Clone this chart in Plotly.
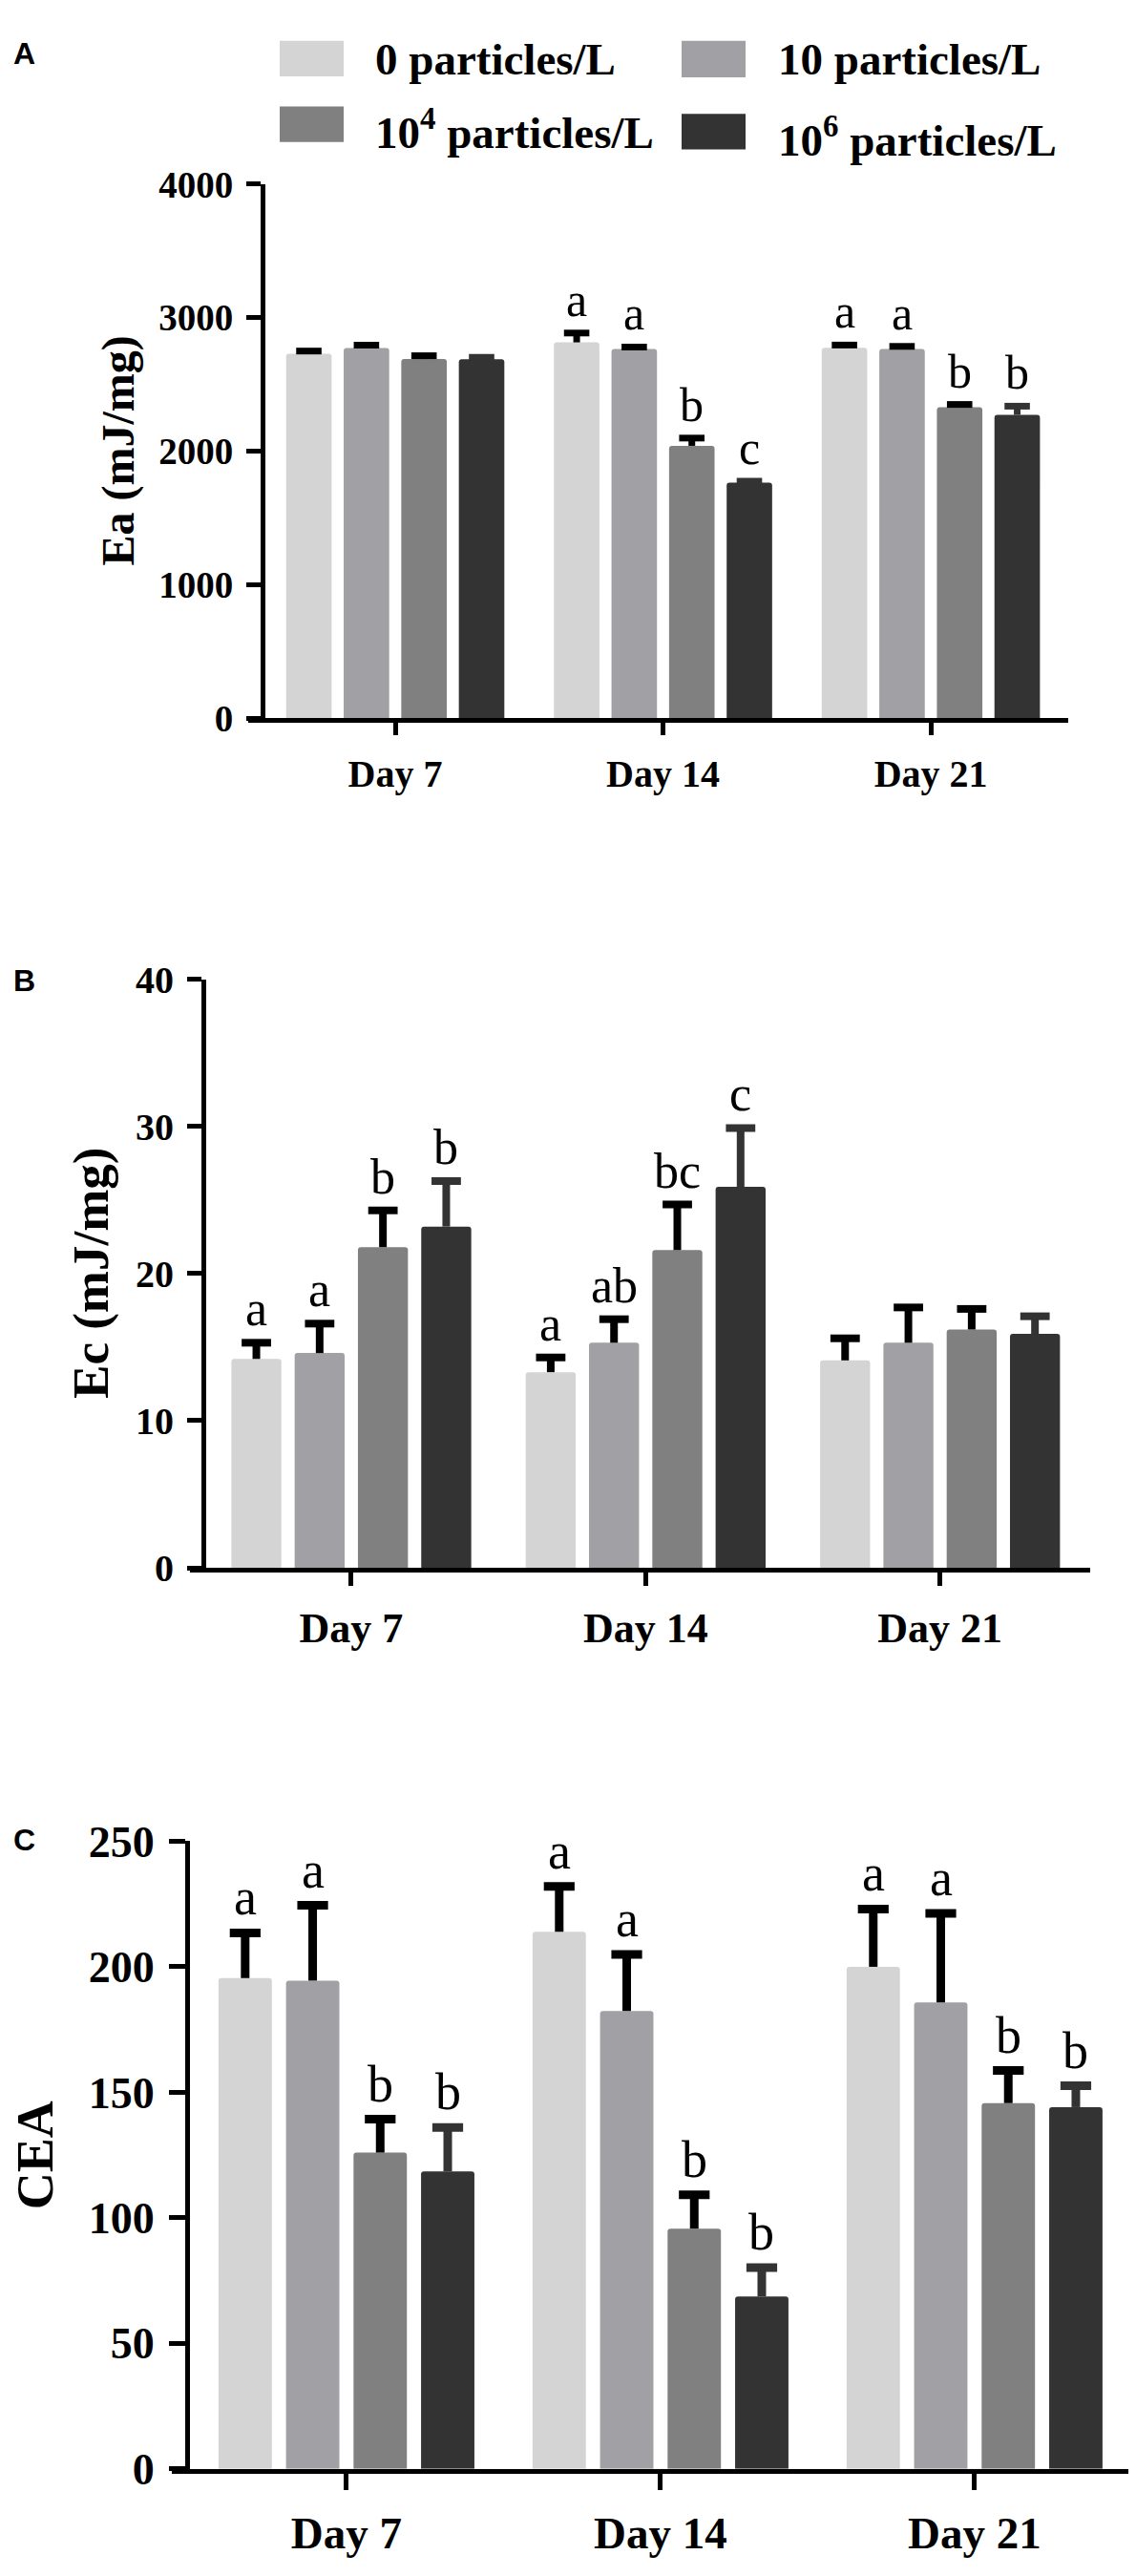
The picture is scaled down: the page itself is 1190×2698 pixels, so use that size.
import plotly.graph_objects as go

# ---------------- data ----------------
days = ["Day 7", "Day 14", "Day 21"]
groups = ["0 particles/L", "10 particles/L",
          "10<sup>4</sup> particles/L", "10<sup>6</sup> particles/L"]

# Panel A: Ea (mJ/mg), rows = groups, cols = days
ea_mean = [[2730, 2815, 2775],
           [2772, 2765, 2765],
           [2690, 2040, 2330],
           [2688, 1765, 2272]]
ea_err = [[20, 70, 20],
          [22, 15, 20],
          [25, 58, 20],
          [15, 10, 65]]
ea_letters = [["", "a", "a"],
              ["", "a", "a"],
              ["", "b", "b"],
              ["", "c", "b"]]

# Panel B: Ec (mJ/mg)
ec_mean = [[14.2, 13.3, 14.1],
           [14.6, 15.3, 15.3],
           [21.8, 21.6, 16.2],
           [23.2, 25.9, 15.9]]
ec_err = [[1.1, 1.0, 1.5],
          [2.0, 1.6, 2.4],
          [2.5, 3.1, 1.4],
          [3.1, 4.0, 1.2]]
ec_letters = [["a", "a", ""],
              ["a", "ab", ""],
              ["b", "bc", ""],
              ["b", "c", ""]]

# Panel C: CEA
cea_mean = [[195.5, 214.0, 200.0],
            [194.5, 182.4, 185.8],
            [126.0, 95.7, 145.7],
            [118.5, 68.7, 144.1]]
cea_err = [[18.0, 18.0, 23.0],
           [30.0, 22.5, 35.5],
           [13.3, 13.5, 13.0],
           [17.5, 11.5, 8.5]]
cea_letters = [["a", "a", "a"],
               ["a", "a", "a"],
               ["b", "b", "b"],
               ["b", "b", "b"]]

ea_ticks = [0, 1000, 2000, 3000, 4000]
ec_ticks = [0, 10, 20, 30, 40]
cea_ticks = [0, 50, 100, 150, 200, 250]

# ---------------- style ----------------
colors = ["#d4d4d4", "#a1a1a5", "#808080", "#333333"]
err_colors = ["#000000", "#000000", "#000000", "#333333"]
SERIF = "Liberation Serif, Times New Roman, serif"
SANS = "Liberation Sans, Arial, sans-serif"
W, H = 1190, 2698
BARGAP = 0.14
BARGROUPGAP = 0.21


def px(x):
    return x / W


def py(y):
    return 1 - y / H


panels = [
    dict(key="", mean=ea_mean, err=ea_err, letters=ea_letters, ticks=ea_ticks,
         yr=[0, 4000], title="Ea (mJ/mg)", xdom=(252, 1111), ydom=(163, 733),
         xr=[-0.549, 2.513], ypos=267, tickfs=39, xfs=40, titlefs=48,
         titlex=116, letfs=50, th=7, cw=9.5, label="A", labely=23,
         xticklen=13, yticklen=15, xstand=6),
    dict(key="2", mean=ec_mean, err=ec_err, letters=ec_letters, ticks=ec_ticks,
         yr=[0, 40], title="Ec (mJ/mg)", xdom=(191, 1134), ydom=(1012, 1640),
         xr=[-0.548, 2.51], ypos=205, tickfs=40, xfs=44, titlefs=53,
         titlex=88, letfs=52, th=8, cw=11, label="B", labely=1013,
         xticklen=14, yticklen=15, xstand=6),
    dict(key="3", mean=cea_mean, err=cea_err, letters=cea_letters, ticks=cea_ticks,
         yr=[0, 250], title="CEA", xdom=(172, 1180), ydom=(1932, 2602),
         xr=[-0.556, 2.508], ypos=188, tickfs=46, xfs=47, titlefs=54,
         titlex=29, letfs=54, th=9, cw=11.5, label="C", labely=1931,
         xticklen=17, yticklen=17, xstand=5),
]

xpos = list(range(len(days)))
slot = (1 - BARGAP) / 4

fig = go.Figure()
annotations = []
shapes = []

for p in panels:
    xa = "x" + p["key"]
    ya = "y" + p["key"]
    for i in range(4):
        tops = [m + e for m, e in zip(p["mean"][i], p["err"][i])]
        # bar with the error stem (no cross-bar)
        fig.add_trace(go.Bar(
            x=xpos, y=p["mean"][i], name=groups[i],
            xaxis=xa, yaxis=ya, showlegend=False,
            marker=dict(color=colors[i], line=dict(width=0), cornerradius=3),
            error_y=dict(type="data", symmetric=False, array=p["err"][i],
                         arrayminus=[0] * len(days), color=err_colors[i],
                         thickness=p["th"], width=0),
        ))
        # upper cross-bar only
        fig.add_trace(go.Scatter(
            x=[d + (i - 1.5) * slot for d in xpos], y=tops,
            xaxis=xa, yaxis=ya, showlegend=False, mode="markers",
            hoverinfo="skip",
            marker=dict(symbol="line-ew", size=2 * p["cw"],
                        line=dict(width=p["th"], color=err_colors[i])),
        ))
        for d in xpos:
            txt = p["letters"][i][d]
            if txt:
                annotations.append(dict(
                    x=d + (i - 1.5) * slot, y=tops[d],
                    xref=xa, yref=ya, text=txt, showarrow=False,
                    xanchor="center", yanchor="bottom", yshift=5,
                    font=dict(family=SERIF, size=p["letfs"], color="black")))
    axis_common = dict(showline=True, linecolor="black", showgrid=False,
                       zeroline=False, ticks="outside", tickcolor="black")
    fig.update_layout(**{
        "xaxis" + p["key"]: dict(
            domain=[px(p["xdom"][0]), px(p["xdom"][1])], range=p["xr"],
            anchor=ya, linewidth=5, tickwidth=5, ticklen=p["xticklen"],
            tickvals=xpos, ticktext=["<b>%s</b>" % d for d in days],
            tickfont=dict(family=SERIF, size=p["xfs"], color="black"),
            ticklabelstandoff=p["xstand"], **axis_common),
        "yaxis" + p["key"]: dict(
            domain=[py(p["ydom"][1]), py(p["ydom"][0])], range=p["yr"],
            anchor="free", position=px(p["ypos"]), linewidth=5, tickwidth=5,
            ticklen=p["yticklen"], tickvals=p["ticks"],
            ticktext=["<b>%d</b>" % t for t in p["ticks"]],
            ticklabelstandoff=6,
            tickfont=dict(family=SERIF, size=p["tickfs"], color="black"),
            **axis_common),
    })
    # y-axis title
    annotations.append(dict(
        x=px(p["titlex"]), y=py((p["ydom"][0] + p["ydom"][1]) / 2),
        xref="paper", yref="paper", text="<b>%s</b>" % p["title"],
        textangle=-90, showarrow=False, xanchor="center", yanchor="middle",
        font=dict(family=SERIF, size=p["titlefs"], color="black")))
    # panel label
    annotations.append(dict(
        x=px(4), y=py(p["labely"]), xref="paper", yref="paper",
        text="<b>%s</b>" % p["label"],
        showarrow=False, xanchor="left", yanchor="middle",
        font=dict(family=SANS, size=32, color="black")))

# ---------------- manual legend ----------------
leg_boxes = [(285, 10, 352, 48), (706, 10, 773, 49),
             (285, 80, 352, 118), (706, 88, 773, 126)]
leg_text = [(383, 30), (805, 30), (383, 104), (805, 113)]
for i in range(4):
    x0, y0, x1, y1 = leg_boxes[i]
    shapes.append(dict(type="rect", xref="paper", yref="paper",
                       x0=px(x0), x1=px(x1), y0=py(y1), y1=py(y0),
                       fillcolor=colors[i], line=dict(width=0)))
    tx, ty = leg_text[i]
    annotations.append(dict(
        x=px(tx), y=py(ty), xref="paper", yref="paper",
        text="<b>%s</b>" % groups[i],
        showarrow=False, xanchor="left", yanchor="middle",
        font=dict(family=SERIF, size=47, color="black")))

fig.update_layout(
    width=W, height=H, autosize=False,
    margin=dict(l=0, r=0, t=0, b=0),
    paper_bgcolor="white", plot_bgcolor="white",
    barmode="group", bargap=BARGAP, bargroupgap=BARGROUPGAP,
    annotations=annotations, shapes=shapes,
)

fig.write_html("out.html")
